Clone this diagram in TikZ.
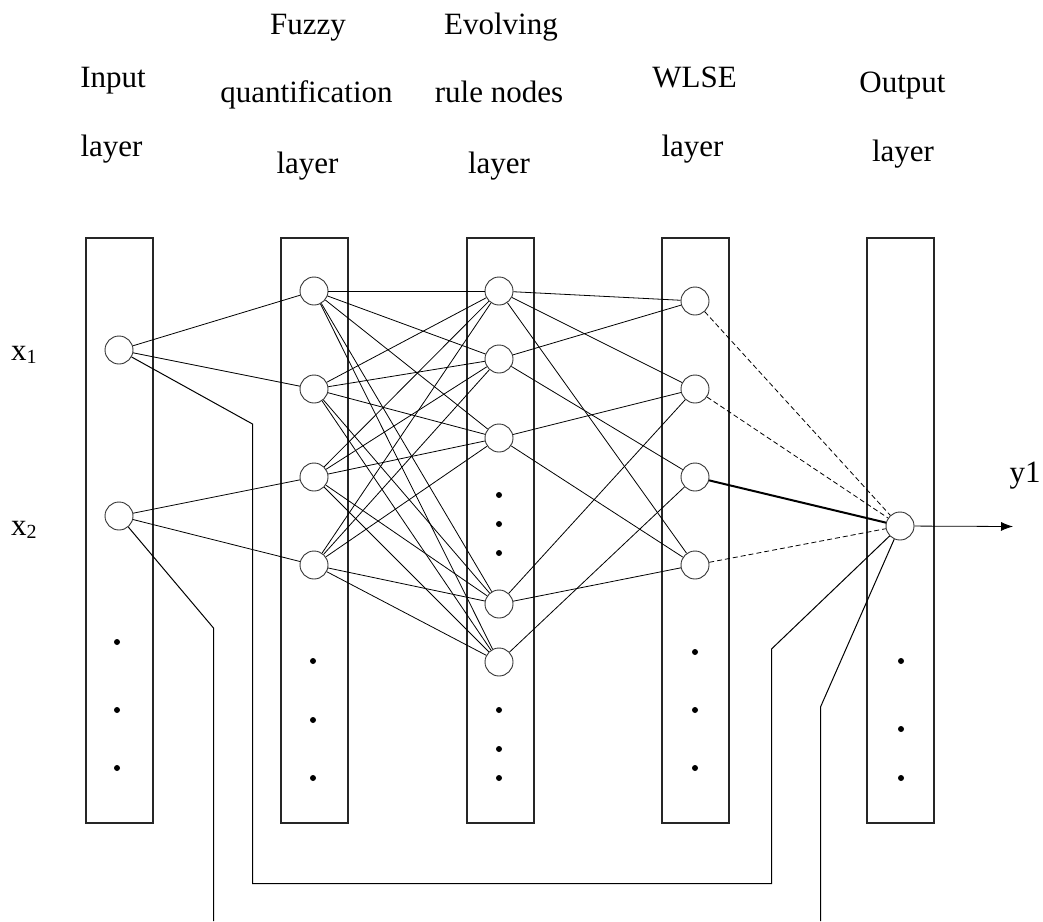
\documentclass[tikz,border=0pt]{standalone}
\usepackage{fontspec}
\setmainfont{Liberation Serif}
\usetikzlibrary{arrows.meta}

\tikzset{
  lbl/.style={anchor=base, inner sep=0pt, font=\fontsize{31}{36}\selectfont},
  layerbox/.style={draw=black!85, line width=1.1pt, minimum width=67pt, minimum height=585pt, inner sep=0pt},
  neuron/.style={circle, draw=black!80, line width=0.9pt, minimum size=28pt, inner sep=0pt, fill=white},
  link/.style={draw=black, line width=0.8pt},
  dlink/.style={draw=black, line width=0.8pt, dash pattern=on 5pt off 3pt},
  strong/.style={draw=black, line width=2pt},
  wire/.style={draw=black, line width=1pt},
  dotc/.style={fill=black}
}

\newcommand{\subx}[1]{x\raisebox{-3pt}{\fontsize{20}{20}\selectfont #1}}

\begin{document}
\begin{tikzpicture}[x=1pt, y=-1pt]
\useasboundingbox (0,0) rectangle (1043,921);

% layer columns
\node[layerbox] (boxIn)  at (119.5,530.5) {};
\node[layerbox] (boxFz)  at (314.5,530.5) {};
\node[layerbox] (boxRl)  at (500.5,530.5) {};
\node[layerbox] (boxWl)  at (695.5,530.5) {};
\node[layerbox] (boxOut) at (900.5,530.5) {};

% column titles
\node[lbl] (tIn1)  at (113,87)   {Input};
\node[lbl] (tIn2)  at (111.5,156) {layer};
\node[lbl] (tFz1)  at (308,34)   {Fuzzy};
\node[lbl] (tFz2)  at (306.5,102) {quantification};
\node[lbl] (tFz3)  at (307.5,173) {layer};
\node[lbl] (tRl1)  at (501,34)   {Evolving};
\node[lbl] (tRl2)  at (499,102)  {rule nodes};
\node[lbl] (tRl3)  at (499,173)  {layer};
\node[lbl] (tWl1)  at (694.5,87) {WLSE};
\node[lbl] (tWl2)  at (692.5,156) {layer};
\node[lbl] (tOut1) at (902.5,92) {Output};
\node[lbl] (tOut2) at (903,161)  {layer};

% input / output labels
\node[lbl, anchor=base west] (lx1) at (11,360) {\subx{1}};
\node[lbl, anchor=base west] (lx2) at (11,535) {\subx{2}};
\node[lbl] (ly1) at (1025,482) {y1};

% neurons
\node[neuron] (I1) at (119,350) {};
\node[neuron] (I2) at (119,516) {};
\foreach \i/\y in {1/291,2/389,3/477,4/565} \node[neuron] (F\i) at (314,\y) {};
\foreach \i/\y in {1/291,2/359,3/438,4/604,5/662} \node[neuron] (R\i) at (499,\y) {};
\foreach \i/\y in {1/301,2/389,3/477,4/565} \node[neuron] (W\i) at (695,\y) {};
\node[neuron] (O) at (900,526) {};

% continuation dots
\foreach \x/\y in {117/642,117/710,117/768,
                   313/661,313/720,313/778,
                   499/495,499/524,499/553,499/710,499/749,499/778,
                   695/652,695/710,695/768,
                   901/661,901/729,901/778}
  \fill[dotc] (\x,\y) circle (3pt);

% input -> fuzzy
\draw[link] (I1) -- (F1);
\draw[link] (I1) -- (F2);
\draw[link] (I2) -- (F3);
\draw[link] (I2) -- (F4);

% fuzzy -> rule nodes (full)
\foreach \f in {1,...,4}
  \foreach \r in {1,...,5}
    \draw[link] (F\f) -- (R\r);

% rule nodes -> WLSE
\draw[link] (R1) -- (W1);
\draw[link] (R1) -- (W2);
\draw[link] (R1) -- (W4);
\draw[link] (R2) -- (W1);
\draw[link] (R2) -- (W3);
\draw[link] (R3) -- (W2);
\draw[link] (R3) -- (W4);
\draw[link] (R4) -- (W2);
\draw[link] (R4) -- (W4);
\draw[link] (R5) -- (W3);

% WLSE -> output
\draw[dlink] (W1) -- (O);
\draw[dlink] (W2) -- (O);
\draw[strong] (W3) -- (O);
\draw[dlink] (W4) -- (O);

% output arrow
\coordinate (yEnd) at (1013,526.5);
\draw[link, -{Latex[length=12pt,width=9pt]}] (O) -- (yEnd);

% routed wires
\coordinate (a1) at (213.5,628);
\coordinate (a2) at (213.5,921);
\draw[wire] (I2) -- (a1) -- (a2);

\coordinate (b1) at (252.5,424);
\coordinate (b2) at (252.5,883.5);
\coordinate (b3) at (771.5,883.5);
\coordinate (b4) at (771.5,649);
\draw[wire] (I1) -- (b1) -- (b2) -- (b3) -- (b4) -- (O);

\coordinate (c1) at (820.5,707);
\coordinate (c2) at (820.5,921);
\draw[wire] (O) -- (c1) -- (c2);
\end{tikzpicture}
\end{document}
